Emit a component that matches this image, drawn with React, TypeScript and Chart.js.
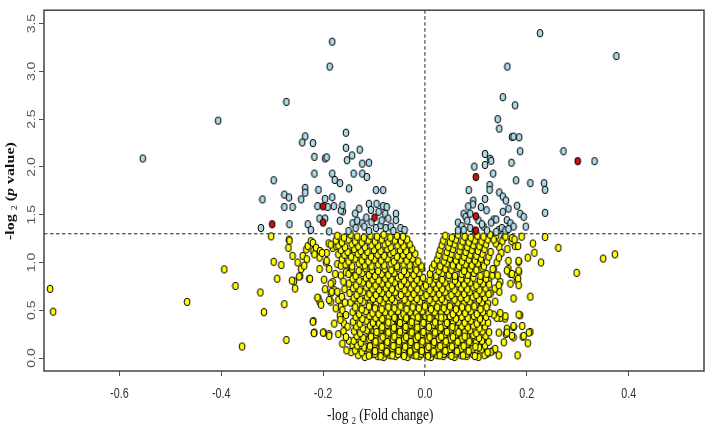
import React, { useEffect, useRef } from 'react';
import { Chart, registerables } from 'chart.js';
Chart.register(...registerables);

const xTicks = [-0.6, -0.4, -0.2, 0, 0.2, 0.4];
const yTicks = [0, 0.5, 1, 1.5, 2, 2.5, 3, 3.5];
const pThreshold = 1.3;
const fcCenter = 0;
const xRange = [-0.748, 0.548];
const yRange = [-0.136, 3.64];

const redPoints = [
  [-0.300, 1.40], [-0.200, 1.587], [-0.200, 1.417], [-0.099, 1.47],
  [0.100, 1.894], [0.100, 1.484], [0.100, 1.335], [0.300, 2.06],
];

const blueLeft = [
  [-0.554, 2.088], [-0.406, 2.484], [-0.182, 3.31], [-0.187, 3.05], [-0.272, 2.68], [-0.235, 2.32], [-0.241, 2.256],
  [-0.220, 2.249], [-0.155, 2.358], [-0.155, 2.20], [-0.128, 2.18], [-0.143, 2.12], [-0.153, 2.07], [-0.217, 2.105],
  [-0.196, 2.088], [-0.193, 2.10], [-0.123, 2.034], [-0.110, 2.044], [-0.297, 1.86], [-0.217, 1.93], [-0.182, 1.93],
  [-0.177, 1.863], [-0.167, 1.83], [-0.140, 1.93], [-0.123, 1.93], [-0.114, 1.894], [-0.149, 1.775], [-0.235, 1.78],
  [-0.235, 1.73], [-0.209, 1.76], [-0.096, 1.757], [-0.082, 1.757], [-0.319, 1.66], [-0.276, 1.71], [-0.267, 1.68],
  [-0.243, 1.66], [-0.196, 1.665], [-0.182, 1.683], [-0.276, 1.58], [-0.260, 1.58], [-0.211, 1.59], [-0.191, 1.58],
  [-0.179, 1.59], [-0.161, 1.535], [-0.110, 1.614], [-0.095, 1.614], [-0.082, 1.59], [-0.075, 1.58], [-0.129, 1.563],
  [-0.137, 1.512], [-0.106, 1.55], [-0.091, 1.53], [-0.078, 1.51], [-0.057, 1.51], [-0.072, 1.46], [-0.057, 1.443],
  [-0.142, 1.41], [-0.133, 1.437], [-0.123, 1.41], [-0.167, 1.437], [-0.196, 1.46], [-0.230, 1.40], [-0.224, 1.34],
  [-0.266, 1.40], [-0.322, 1.36], [-0.188, 1.324], [-0.096, 1.36], [-0.087, 1.39], [-0.077, 1.36], [-0.067, 1.375],
  [-0.048, 1.36], [-0.136, 1.36], [-0.119, 1.375], [-0.165, 1.545], [-0.162, 1.60], [-0.207, 1.46], [-0.150, 1.33],
  [-0.110, 1.33], [-0.062, 1.33], [-0.040, 1.34], [-0.105, 1.42], [-0.085, 1.44], [-0.115, 1.47],
];

const blueRight = [
  [0.097, 2.003], [0.086, 1.757], [0.095, 1.648], [0.226, 3.40], [0.376, 3.16], [0.162, 3.05], [0.153, 2.73],
  [0.177, 2.645], [0.143, 2.50], [0.146, 2.40], [0.171, 2.313], [0.174, 2.317], [0.185, 2.31], [0.187, 2.164],
  [0.272, 2.164], [0.333, 2.06], [0.118, 2.136], [0.128, 2.085], [0.130, 2.064], [0.118, 2.02], [0.170, 2.044],
  [0.134, 1.93], [0.179, 1.86], [0.207, 1.83], [0.234, 1.83], [0.236, 1.76], [0.127, 1.81], [0.127, 1.76],
  [0.146, 1.733], [0.153, 1.69], [0.159, 1.648], [0.118, 1.665], [0.094, 1.607], [0.110, 1.58], [0.085, 1.587],
  [0.121, 1.546], [0.164, 1.563], [0.181, 1.594], [0.153, 1.53], [0.236, 1.519], [0.187, 1.51], [0.194, 1.478],
  [0.076, 1.51], [0.080, 1.478], [0.089, 1.51], [0.135, 1.45], [0.130, 1.417], [0.140, 1.45], [0.161, 1.443],
  [0.168, 1.41], [0.174, 1.375], [0.198, 1.375], [0.065, 1.417], [0.072, 1.38], [0.083, 1.437], [0.065, 1.335],
  [0.076, 1.34], [0.089, 1.36], [0.115, 1.375], [0.122, 1.335], [0.145, 1.34], [0.151, 1.36], [0.158, 1.335],
  [0.164, 1.35], [0.105, 1.44], [0.112, 1.40], [0.098, 1.33], [0.140, 1.32],
];

const yellowOutliers = [
  [-0.736, 0.724], [-0.730, 0.485], [-0.467, 0.587], [-0.394, 0.928], [-0.372, 0.754], [-0.359, 0.12],
  [-0.323, 0.686], [-0.316, 0.48], [0.350, 1.041], [0.373, 1.085], [0.298, 0.891], [0.262, 1.153], [0.236, 1.266],
];

const yellowLeftWing = [
  [-0.302, 1.273], [-0.297, 1.007], [-0.282, 0.973], [-0.290, 0.83], [-0.276, 0.563], [-0.272, 0.188], [-0.267, 1.239],
  [-0.268, 1.153], [-0.260, 1.069], [-0.257, 0.802], [-0.250, 1.0], [-0.240, 1.069], [-0.243, 0.931], [-0.245, 0.857],
  [-0.233, 1.136], [-0.230, 1.171], [-0.224, 1.222], [-0.227, 0.829], [-0.215, 1.10], [-0.219, 0.386], [-0.217, 0.266],
  [-0.209, 0.624], [-0.207, 0.59], [-0.199, 0.266], [-0.188, 0.25], [-0.170, 0.25], [-0.185, 0.59], [-0.207, 0.931],
  [-0.194, 1.0], [-0.193, 1.10], [-0.189, 1.20], [-0.181, 1.153], [-0.181, 0.795], [-0.178, 0.71], [-0.185, 0.676],
  [-0.266, 1.228], [-0.261, 0.81], [-0.255, 0.727], [-0.247, 0.853], [-0.232, 1.034], [-0.237, 0.966], [-0.226, 0.829],
  [-0.220, 1.205], [-0.219, 1.12], [-0.214, 1.153], [-0.206, 1.12], [-0.207, 1.051], [-0.202, 1.10], [-0.217, 1.085],
  [-0.211, 0.632], [-0.204, 0.557], [-0.220, 0.379], [-0.218, 0.26], [-0.200, 0.266], [-0.188, 0.232], [-0.193, 1.017],
  [-0.188, 0.931], [-0.185, 0.778], [-0.183, 0.693], [-0.188, 0.608], [-0.172, 0.693], [-0.170, 0.608], [-0.165, 0.539],
  [-0.167, 0.444], [-0.159, 0.362], [-0.152, 0.328], [-0.185, 1.187], [-0.174, 1.171], [-0.170, 1.085], [-0.172, 0.983],
  [-0.165, 0.966], [-0.165, 0.864], [-0.155, 0.898], [-0.149, 1.102], [-0.149, 0.983], [-0.145, 0.915], [-0.149, 0.181],
  [-0.142, 0.130], [-0.145, 0.061], [-0.129, 0.061], [-0.160, 0.80], [-0.158, 0.72], [-0.163, 0.64], [-0.157, 0.58],
  [-0.162, 0.50], [-0.155, 0.45], [-0.160, 0.28], [-0.155, 0.22], [-0.162, 0.15], [-0.154, 0.08], [-0.166, 0.40],
  [-0.175, 0.52], [-0.178, 0.36], [-0.176, 0.88], [-0.198, 0.82], [-0.196, 0.72],
];

const yellowRightWing = [
  [0.212, 1.198], [0.215, 1.102], [0.228, 1.0], [0.202, 1.05], [0.184, 1.007], [0.184, 0.898], [0.181, 0.81],
  [0.168, 0.778], [0.207, 0.642], [0.174, 0.624], [0.187, 0.447], [0.174, 0.324], [0.161, 0.307], [0.174, 0.215],
  [0.192, 0.222], [0.207, 0.273], [0.202, 0.154], [0.182, 0.028], [0.157, 0.413], [0.148, 0.42], [0.141, 0.42],
  [0.135, 0.454], [0.159, 0.25], [0.145, 0.266], [0.134, 0.079], [0.122, 0.061], [0.117, 0.147], [0.164, 0.931],
  [0.168, 0.88], [0.177, 0.864], [0.183, 0.829], [0.177, 1.171], [0.183, 1.171], [0.170, 1.222], [0.171, 1.256],
  [0.155, 1.256], [0.141, 1.0], [0.148, 0.795], [0.146, 0.693], [0.137, 0.727], [0.138, 0.59], [0.132, 0.864],
  [0.135, 0.931], [0.125, 0.81], [0.129, 0.676], [0.184, 1.017], [0.164, 1.017], [0.184, 0.915], [0.161, 0.915],
  [0.184, 0.762], [0.171, 0.88], [0.143, 0.864], [0.133, 0.931], [0.145, 0.762], [0.158, 0.437], [0.148, 0.471],
  [0.184, 0.454], [0.191, 0.335], [0.174, 0.335], [0.171, 0.232], [0.161, 0.266], [0.155, 0.164], [0.204, 0.266],
  [0.194, 0.232], [0.138, 0.096], [0.129, 0.061], [0.145, 0.028], [0.122, 0.045], [0.140, 1.28], [0.152, 1.22],
  [0.146, 1.16], [0.158, 1.27], [0.139, 1.20], [0.150, 1.10], [0.162, 1.14], [0.145, 1.05], [0.135, 1.24],
  [0.190, 1.27], [0.176, 1.24],
];

const yellowCore = [
  [-0.131, 0.03], [-0.118, 0.01], [-0.104, 0.04], [-0.093, 0.02], [-0.081, 0.01], [-0.069, 0.03], [-0.058, 0.02], [-0.045, 0.04], [-0.034, 0.01], [-0.022, 0.03], [-0.011, 0.02], [0.001, 0.04], [0.012, 0.01], [0.024, 0.03], [0.036, 0.02], [0.047, 0.04], [0.058, 0.01], [0.071, 0.03], [0.082, 0.02], [0.094, 0.04], [0.105, 0.01], [0.117, 0.03],
  [-0.137, 0.08], [-0.124, 0.06], [-0.111, 0.09], [-0.099, 0.07], [-0.087, 0.06], [-0.075, 0.09], [-0.063, 0.07], [-0.052, 0.08], [-0.040, 0.06], [-0.028, 0.09], [-0.016, 0.07], [-0.005, 0.06], [0.007, 0.09], [0.018, 0.07], [0.030, 0.08], [0.041, 0.06], [0.053, 0.09], [0.064, 0.07], [0.076, 0.06], [0.088, 0.08], [0.099, 0.07], [0.111, 0.09], [0.123, 0.06],
  [-0.133, 0.13], [-0.119, 0.11], [-0.106, 0.14], [-0.094, 0.12], [-0.082, 0.11], [-0.070, 0.13], [-0.057, 0.12], [-0.046, 0.14], [-0.035, 0.11], [-0.022, 0.13], [-0.010, 0.12], [0.002, 0.14], [0.013, 0.11], [0.025, 0.13], [0.036, 0.12], [0.048, 0.14], [0.059, 0.11], [0.070, 0.13], [0.083, 0.12], [0.094, 0.14], [0.106, 0.11], [0.118, 0.13],
  [-0.140, 0.18], [-0.126, 0.16], [-0.113, 0.19], [-0.100, 0.17], [-0.088, 0.16], [-0.076, 0.18], [-0.064, 0.17], [-0.051, 0.19], [-0.040, 0.16], [-0.029, 0.18], [-0.016, 0.17], [-0.004, 0.19], [0.007, 0.16], [0.019, 0.18], [0.031, 0.17], [0.042, 0.19], [0.054, 0.16], [0.065, 0.18], [0.077, 0.17], [0.089, 0.19], [0.100, 0.16], [0.112, 0.18], [0.125, 0.17],
  [-0.134, 0.23], [-0.121, 0.21], [-0.107, 0.24], [-0.095, 0.22], [-0.083, 0.21], [-0.071, 0.23], [-0.058, 0.22], [-0.047, 0.24], [-0.034, 0.21], [-0.023, 0.23], [-0.011, 0.22], [0.001, 0.24], [0.013, 0.21], [0.024, 0.23], [0.037, 0.22], [0.048, 0.24], [0.060, 0.21], [0.071, 0.23], [0.083, 0.22], [0.095, 0.24], [0.106, 0.21], [0.119, 0.23],
  [-0.139, 0.28], [-0.127, 0.26], [-0.114, 0.29], [-0.101, 0.27], [-0.089, 0.26], [-0.077, 0.28], [-0.064, 0.27], [-0.052, 0.29], [-0.041, 0.26], [-0.028, 0.28], [-0.017, 0.27], [-0.005, 0.29], [0.008, 0.26], [0.019, 0.28], [0.030, 0.27], [0.043, 0.29], [0.054, 0.26], [0.066, 0.28], [0.078, 0.27], [0.089, 0.29], [0.101, 0.26], [0.113, 0.28], [0.126, 0.27],
  [-0.135, 0.33], [-0.122, 0.31], [-0.108, 0.34], [-0.096, 0.32], [-0.084, 0.31], [-0.070, 0.33], [-0.059, 0.32], [-0.046, 0.34], [-0.035, 0.31], [-0.022, 0.33], [-0.010, 0.32], [0.002, 0.34], [0.014, 0.31], [0.025, 0.33], [0.037, 0.32], [0.049, 0.34], [0.060, 0.31], [0.072, 0.33], [0.084, 0.32], [0.095, 0.34], [0.107, 0.31], [0.118, 0.33],
  [-0.141, 0.38], [-0.128, 0.36], [-0.115, 0.39], [-0.102, 0.37], [-0.090, 0.36], [-0.077, 0.38], [-0.065, 0.37], [-0.053, 0.39], [-0.041, 0.36], [-0.029, 0.38], [-0.016, 0.37], [-0.004, 0.39], [0.008, 0.36], [0.020, 0.38], [0.031, 0.37], [0.043, 0.39], [0.055, 0.36], [0.066, 0.38], [0.078, 0.37], [0.090, 0.39], [0.102, 0.36], [0.114, 0.38], [0.124, 0.37],
  [-0.136, 0.43], [-0.123, 0.41], [-0.109, 0.44], [-0.097, 0.42], [-0.084, 0.41], [-0.071, 0.43], [-0.059, 0.42], [-0.047, 0.44], [-0.035, 0.41], [-0.023, 0.43], [-0.011, 0.42], [0.001, 0.44], [0.013, 0.41], [0.025, 0.43], [0.038, 0.42], [0.049, 0.44], [0.061, 0.41], [0.072, 0.43], [0.084, 0.42], [0.096, 0.44], [0.108, 0.41], [0.120, 0.43],
  [-0.142, 0.48], [-0.129, 0.46], [-0.116, 0.49], [-0.103, 0.47], [-0.091, 0.46], [-0.078, 0.48], [-0.066, 0.47], [-0.053, 0.49], [-0.042, 0.46], [-0.029, 0.48], [-0.017, 0.47], [-0.005, 0.49], [0.007, 0.46], [0.019, 0.48], [0.032, 0.47], [0.043, 0.49], [0.055, 0.46], [0.067, 0.48], [0.079, 0.47], [0.090, 0.49], [0.102, 0.46], [0.114, 0.48], [0.127, 0.47],
  [-0.137, 0.53], [-0.124, 0.51], [-0.110, 0.54], [-0.098, 0.52], [-0.085, 0.51], [-0.072, 0.53], [-0.060, 0.52], [-0.048, 0.54], [-0.036, 0.51], [-0.024, 0.53], [-0.012, 0.52], [0.000, 0.54], [0.012, 0.51], [0.024, 0.53], [0.037, 0.52], [0.049, 0.54], [0.061, 0.51], [0.073, 0.53], [0.085, 0.52], [0.097, 0.54], [0.109, 0.51], [0.121, 0.53],
];

const yellowCoreDense = [
  [-0.098, 0.045], [-0.076, 0.050], [-0.053, 0.042], [-0.030, 0.048], [-0.008, 0.044], [0.015, 0.050], [0.037, 0.043], [0.060, 0.047], [0.082, 0.045],
  [-0.110, 0.097], [-0.087, 0.092], [-0.064, 0.099], [-0.041, 0.094], [-0.019, 0.098], [0.004, 0.093], [0.026, 0.099], [0.049, 0.094], [0.071, 0.097], [0.093, 0.092],
  [-0.099, 0.146], [-0.076, 0.142], [-0.052, 0.149], [-0.030, 0.144], [-0.007, 0.147], [0.016, 0.143], [0.038, 0.149], [0.060, 0.144], [0.083, 0.146],
  [-0.109, 0.197], [-0.087, 0.193], [-0.063, 0.199], [-0.041, 0.194], [-0.018, 0.198], [0.005, 0.193], [0.027, 0.199], [0.050, 0.195], [0.072, 0.197],
  [-0.097, 0.247], [-0.075, 0.243], [-0.052, 0.249], [-0.029, 0.244], [-0.006, 0.248], [0.017, 0.243], [0.039, 0.249], [0.061, 0.245],
  [-0.086, 0.297], [-0.063, 0.293], [-0.040, 0.299], [-0.018, 0.294], [0.005, 0.298], [0.028, 0.293], [0.050, 0.299],
  [-0.074, 0.347], [-0.051, 0.343], [-0.029, 0.349], [-0.006, 0.344], [0.016, 0.348], [0.039, 0.343],
];

const yellowCoreDarkest = [
  [-0.110, 0.025], [-0.087, 0.018], [-0.064, 0.028], [-0.041, 0.020], [-0.017, 0.026], [0.006, 0.019], [0.029, 0.027], [0.052, 0.021], [0.075, 0.026], [0.098, 0.020],
  [-0.098, 0.072], [-0.075, 0.066], [-0.052, 0.075], [-0.029, 0.068], [-0.006, 0.073], [0.017, 0.067], [0.040, 0.074], [0.063, 0.069], [0.086, 0.072],
  [-0.108, 0.122], [-0.085, 0.117], [-0.062, 0.125], [-0.039, 0.118], [-0.016, 0.124], [0.007, 0.117], [0.030, 0.123], [0.053, 0.119], [0.076, 0.124], [0.099, 0.118],
  [-0.097, 0.172], [-0.074, 0.167], [-0.051, 0.175], [-0.028, 0.168], [-0.005, 0.173], [0.018, 0.167], [0.041, 0.174], [0.064, 0.169], [0.087, 0.172],
  [-0.106, 0.222], [-0.083, 0.217], [-0.060, 0.225], [-0.037, 0.218], [-0.014, 0.224], [0.009, 0.217], [0.032, 0.223], [0.055, 0.219], [0.078, 0.224],
  [-0.095, 0.272], [-0.072, 0.267], [-0.049, 0.275], [-0.026, 0.268], [-0.003, 0.273], [0.020, 0.267], [0.043, 0.274], [0.066, 0.269],
  [-0.084, 0.322], [-0.061, 0.317], [-0.038, 0.325], [-0.015, 0.318], [0.008, 0.323], [0.031, 0.317], [0.054, 0.324],
  [-0.072, 0.372], [-0.049, 0.367], [-0.026, 0.375], [-0.003, 0.368], [0.020, 0.373], [0.043, 0.367],
  [-0.060, 0.422], [-0.037, 0.417], [-0.014, 0.425], [0.009, 0.418], [0.032, 0.423],
];

const yellowMid = [
  [-0.146, 0.58], [-0.133, 0.56], [-0.121, 0.59], [-0.108, 0.57], [-0.096, 0.56], [-0.083, 0.58], [-0.071, 0.57], [-0.059, 0.59], [-0.046, 0.56], [-0.034, 0.58], [-0.022, 0.57], [-0.010, 0.59], [0.003, 0.56], [0.015, 0.58], [0.027, 0.57], [0.039, 0.59], [0.052, 0.56], [0.064, 0.58], [0.076, 0.57], [0.088, 0.59], [0.100, 0.56], [0.112, 0.58], [0.124, 0.57],
  [-0.140, 0.63], [-0.127, 0.61], [-0.114, 0.64], [-0.102, 0.62], [-0.089, 0.61], [-0.077, 0.63], [-0.065, 0.62], [-0.052, 0.64], [-0.040, 0.61], [-0.028, 0.63], [-0.016, 0.62], [-0.003, 0.64], [0.009, 0.61], [0.021, 0.63], [0.033, 0.62], [0.046, 0.64], [0.058, 0.61], [0.070, 0.63], [0.082, 0.62], [0.094, 0.64], [0.106, 0.61], [0.118, 0.63],
  [-0.148, 0.68], [-0.134, 0.66], [-0.121, 0.69], [-0.109, 0.67], [-0.096, 0.66], [-0.084, 0.68], [-0.071, 0.67], [-0.058, 0.69], [-0.047, 0.66], [-0.034, 0.68], [-0.022, 0.67], [-0.009, 0.69], [0.003, 0.66], [0.015, 0.68], [0.028, 0.67], [0.040, 0.69], [0.052, 0.66], [0.064, 0.68], [0.077, 0.67], [0.088, 0.69], [0.101, 0.66], [0.113, 0.68], [0.125, 0.67],
  [-0.141, 0.73], [-0.128, 0.71], [-0.115, 0.74], [-0.103, 0.72], [-0.090, 0.71], [-0.077, 0.73], [-0.065, 0.72], [-0.053, 0.74], [-0.040, 0.71], [-0.028, 0.73], [-0.015, 0.72], [-0.003, 0.74], [0.009, 0.71], [0.022, 0.73], [0.034, 0.72], [0.046, 0.74], [0.058, 0.71], [0.071, 0.73], [0.083, 0.72], [0.095, 0.74], [0.107, 0.71], [0.119, 0.73],
  [-0.149, 0.78], [-0.135, 0.76], [-0.122, 0.79], [-0.110, 0.77], [-0.097, 0.76], [-0.084, 0.78], [-0.072, 0.77], [-0.059, 0.79], [-0.047, 0.76], [-0.035, 0.78], [-0.022, 0.77], [-0.010, 0.79], [0.002, 0.76], [0.016, 0.78], [0.028, 0.77], [0.040, 0.79], [0.053, 0.76], [0.065, 0.78], [0.077, 0.77], [0.089, 0.79], [0.101, 0.76], [0.114, 0.78], [0.126, 0.77],
  [-0.142, 0.83], [-0.129, 0.81], [-0.116, 0.84], [-0.103, 0.82], [-0.091, 0.81], [-0.078, 0.83], [-0.066, 0.82], [-0.053, 0.84], [-0.041, 0.81], [-0.028, 0.83], [-0.016, 0.82], [-0.004, 0.84], [0.009, 0.81], [0.021, 0.83], [0.034, 0.82], [0.046, 0.84], [0.059, 0.81], [0.071, 0.83], [0.083, 0.82], [0.095, 0.84], [0.108, 0.81], [0.120, 0.83],
  [-0.150, 0.88], [-0.136, 0.86], [-0.123, 0.89], [-0.110, 0.87], [-0.098, 0.86], [-0.085, 0.88], [-0.072, 0.87], [-0.060, 0.89], [-0.047, 0.86], [-0.035, 0.88], [-0.022, 0.87], [-0.011, 0.89], [0.010, 0.88], [0.022, 0.86], [0.034, 0.89], [0.047, 0.87], [0.059, 0.86], [0.072, 0.88], [0.084, 0.87], [0.096, 0.89], [0.109, 0.86], [0.121, 0.88],
  [-0.143, 0.93], [-0.130, 0.91], [-0.117, 0.94], [-0.104, 0.92], [-0.092, 0.91], [-0.079, 0.93], [-0.066, 0.92], [-0.054, 0.94], [-0.041, 0.91], [-0.029, 0.93], [-0.017, 0.92], [-0.006, 0.94], [0.014, 0.94], [0.027, 0.91], [0.040, 0.93], [0.052, 0.92], [0.064, 0.94], [0.077, 0.91], [0.089, 0.93], [0.101, 0.92], [0.113, 0.94],
];

const yellowLeftArm = [
  [-0.156, 0.98], [-0.143, 0.96], [-0.130, 0.99], [-0.118, 0.97], [-0.105, 0.96], [-0.092, 0.98], [-0.080, 0.97], [-0.067, 0.99], [-0.055, 0.96], [-0.042, 0.98], [-0.030, 0.97], [-0.018, 0.99], [-0.007, 0.96],
  [-0.163, 1.03], [-0.150, 1.01], [-0.137, 1.04], [-0.124, 1.02], [-0.111, 1.01], [-0.099, 1.03], [-0.086, 1.02], [-0.073, 1.04], [-0.061, 1.01], [-0.048, 1.03], [-0.036, 1.02], [-0.024, 1.04], [-0.013, 1.01],
  [-0.158, 1.08], [-0.145, 1.06], [-0.132, 1.09], [-0.119, 1.07], [-0.106, 1.06], [-0.093, 1.08], [-0.080, 1.07], [-0.068, 1.09], [-0.055, 1.06], [-0.043, 1.08], [-0.031, 1.07], [-0.019, 1.09],
  [-0.165, 1.13], [-0.152, 1.11], [-0.139, 1.14], [-0.126, 1.12], [-0.113, 1.11], [-0.100, 1.13], [-0.087, 1.12], [-0.074, 1.14], [-0.062, 1.11], [-0.049, 1.13], [-0.037, 1.12], [-0.025, 1.14],
  [-0.170, 1.18], [-0.157, 1.16], [-0.144, 1.19], [-0.131, 1.17], [-0.118, 1.16], [-0.105, 1.18], [-0.092, 1.17], [-0.079, 1.19], [-0.067, 1.16], [-0.054, 1.18], [-0.042, 1.17], [-0.030, 1.19],
  [-0.175, 1.23], [-0.163, 1.21], [-0.150, 1.24], [-0.137, 1.22], [-0.124, 1.21], [-0.111, 1.23], [-0.098, 1.22], [-0.085, 1.24], [-0.072, 1.21], [-0.059, 1.23], [-0.047, 1.22], [-0.035, 1.24],
  [-0.172, 1.28], [-0.159, 1.26], [-0.146, 1.29], [-0.133, 1.27], [-0.120, 1.26], [-0.107, 1.28], [-0.094, 1.27], [-0.081, 1.29], [-0.068, 1.26], [-0.055, 1.28], [-0.043, 1.27],
];

const yellowRightArm = [
  [0.018, 0.98], [0.030, 0.96], [0.043, 0.99], [0.055, 0.97], [0.067, 0.96], [0.080, 0.98], [0.092, 0.97], [0.104, 0.99], [0.116, 0.96],
  [0.024, 1.03], [0.037, 1.01], [0.049, 1.04], [0.061, 1.02], [0.073, 1.01], [0.086, 1.03], [0.098, 1.02], [0.110, 1.04], [0.122, 1.01],
  [0.027, 1.08], [0.040, 1.06], [0.052, 1.09], [0.064, 1.07], [0.077, 1.06], [0.089, 1.08], [0.101, 1.07], [0.113, 1.09], [0.125, 1.06],
  [0.030, 1.13], [0.043, 1.11], [0.055, 1.14], [0.068, 1.12], [0.080, 1.11], [0.092, 1.13], [0.104, 1.12], [0.117, 1.14], [0.129, 1.11],
  [0.033, 1.18], [0.046, 1.16], [0.058, 1.19], [0.070, 1.17], [0.083, 1.16], [0.095, 1.18], [0.107, 1.17], [0.120, 1.19],
  [0.036, 1.23], [0.049, 1.21], [0.061, 1.24], [0.074, 1.22], [0.086, 1.21], [0.098, 1.23], [0.111, 1.22], [0.123, 1.24],
  [0.040, 1.28], [0.053, 1.26], [0.065, 1.29], [0.078, 1.27], [0.090, 1.26], [0.103, 1.28], [0.115, 1.27], [0.128, 1.29],
];

const toXY = (arr: number[][]) => arr.map(([x, y]) => ({ x, y }));

function makeMarker(fill: string): HTMLCanvasElement {
  const c = document.createElement('canvas');
  c.width = 8;
  c.height = 10;
  const g = c.getContext('2d')!;
  g.beginPath();
  g.ellipse(4, 5, 2.9, 3.7, 0, 0, Math.PI * 2);
  g.fillStyle = fill;
  g.fill();
  g.lineWidth = 1;
  g.strokeStyle = '#000';
  g.stroke();
  return c;
}

function drawRich(ctx: CanvasRenderingContext2D, parts: { t: string; font: string; dy: number }[]) {
  let x = 0;
  for (const p of parts) {
    ctx.font = p.font;
    ctx.fillText(p.t, x, p.dy);
    x += ctx.measureText(p.t).width;
  }
}

const decorPlugin = {
  id: 'volcanoDecor',
  beforeDatasetsDraw(chart: any) {
    const { ctx, chartArea, scales } = chart;
    const { left, right, top, bottom } = chartArea;
    ctx.save();
    ctx.strokeStyle = '#222';
    ctx.lineWidth = 1;
    ctx.setLineDash([3.5, 2.5]);
    const px = scales.x.getPixelForValue(fcCenter);
    const py = scales.y.getPixelForValue(pThreshold);
    ctx.beginPath();
    ctx.moveTo(px, top);
    ctx.lineTo(px, bottom);
    ctx.moveTo(left, py);
    ctx.lineTo(right, py);
    ctx.stroke();
    ctx.restore();
  },
  afterDraw(chart: any) {
    const { ctx, chartArea, scales } = chart;
    const { left, right, top, bottom } = chartArea;
    ctx.save();
    ctx.setLineDash([]);
    ctx.strokeStyle = '#444';
    ctx.lineWidth = 1.5;
    ctx.strokeRect(left, top, right - left, bottom - top);

    ctx.textAlign = 'center';
    ctx.textBaseline = 'alphabetic';
    ctx.fillStyle = '#333';
    ctx.font = '14px "Liberation Sans", Arial, sans-serif';
    for (const v of xTicks) {
      const px = scales.x.getPixelForValue(v);
      ctx.save();
      ctx.translate(px, 398);
      ctx.scale(0.77, 1);
      ctx.fillText(v.toFixed(1), 0, 0);
      ctx.restore();
    }
    ctx.fillStyle = '#555';
    for (const v of yTicks) {
      const py = scales.y.getPixelForValue(v);
      ctx.save();
      ctx.translate(35, py);
      ctx.rotate(-Math.PI / 2);
      ctx.scale(1, 0.8);
      ctx.fillText(v.toFixed(1), 0, 0);
      ctx.restore();
    }

    ctx.textAlign = 'left';
    ctx.fillStyle = '#111';
    const serif = '"Liberation Serif", "Times New Roman", serif';
    ctx.save();
    ctx.translate(327, 420);
    ctx.scale(0.83, 1);
    drawRich(ctx, [
      { t: '-log ', font: `16px ${serif}`, dy: 0 },
      { t: '2', font: `10px ${serif}`, dy: 4 },
      { t: ' (Fold change)', font: `16px ${serif}`, dy: 0 },
    ]);
    ctx.restore();

    ctx.save();
    ctx.translate(13.5, 240);
    ctx.rotate(-Math.PI / 2);
    ctx.scale(1, 0.8);
    drawRich(ctx, [
      { t: '-log ', font: `bold 16px ${serif}`, dy: 0 },
      { t: '2', font: `10px ${serif}`, dy: 4 },
      { t: ' (', font: `bold 16px ${serif}`, dy: 0 },
      { t: 'p', font: `italic bold 16px ${serif}`, dy: 0 },
      { t: ' value)', font: `bold 16px ${serif}`, dy: 0 },
    ]);
    ctx.restore();
    ctx.restore();
  },
};

export default function App() {
  const ref = useRef<HTMLCanvasElement>(null);
  useEffect(() => {
    if (!ref.current) return;
    const redM = makeMarker('#cc1111');
    const blueM = makeMarker('#add8e6');
    const yellowM = makeMarker('#ffff00');
    const yellowAll = [
      ...yellowOutliers, ...yellowLeftWing, ...yellowRightWing, ...yellowMid, ...yellowLeftArm,
      ...yellowRightArm, ...yellowCore, ...yellowCoreDense, ...yellowCoreDarkest,
    ];
    const chart = new Chart(ref.current, {
      type: 'scatter',
      data: {
        datasets: [
          { label: 'red', data: toXY(redPoints), pointStyle: redM as any, pointRadius: 3 },
          { label: 'blue', data: toXY([...blueLeft, ...blueRight]), pointStyle: blueM as any, pointRadius: 3 },
          { label: 'yellow', data: toXY(yellowAll), pointStyle: yellowM as any, pointRadius: 3 },
        ],
      },
      options: {
        animation: false,
        responsive: true,
        maintainAspectRatio: false,
        layout: { padding: { top: 2, right: 3, left: 0, bottom: 0 } },
        plugins: { legend: { display: false }, tooltip: { enabled: false } },
        events: [],
        scales: {
          x: {
            type: 'linear',
            min: xRange[0],
            max: xRange[1],
            afterBuildTicks: (s: any) => { s.ticks = xTicks.map((v) => ({ value: v })); },
            afterFit: (s: any) => { s.height = 56; },
            ticks: { color: 'rgba(0,0,0,0)', font: { size: 12 } },
            grid: { drawOnChartArea: false, drawTicks: true, tickLength: 5, color: '#555', lineWidth: 1 },
            border: { display: false },
          },
          y: {
            type: 'linear',
            min: yRange[0],
            max: yRange[1],
            afterBuildTicks: (s: any) => { s.ticks = yTicks.map((v) => ({ value: v })); },
            afterFit: (s: any) => { s.width = 44; },
            ticks: { color: 'rgba(0,0,0,0)', font: { size: 12 } },
            grid: { drawOnChartArea: false, drawTicks: true, tickLength: 5, color: '#555', lineWidth: 1 },
            border: { display: false },
          },
        },
      },
      plugins: [decorPlugin],
    });
    return () => chart.destroy();
  }, []);
  return (
    <div style={{ position: 'absolute', left: 0, top: 0, width: 709, height: 427, background: '#fff' }}>
      <canvas ref={ref} />
    </div>
  );
}
